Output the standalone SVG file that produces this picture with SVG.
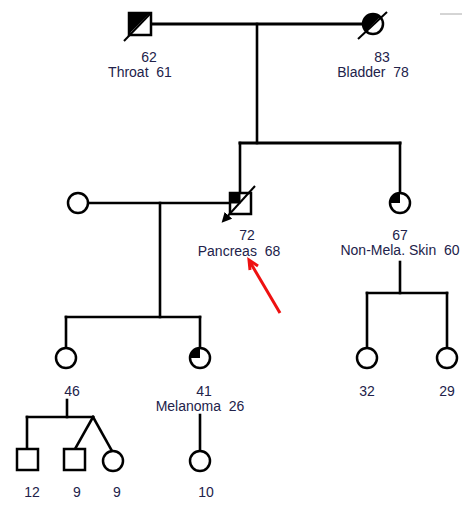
<svg xmlns="http://www.w3.org/2000/svg" width="465" height="508" viewBox="0 0 465 508">
<style>
text{font-family:"Liberation Sans",Arial,sans-serif;font-size:14px;fill:#22224a;text-anchor:middle;white-space:pre}
.ln{stroke:#000;stroke-width:2.6;fill:none;stroke-linecap:square}
.sym{stroke:#000;stroke-width:2.5;fill:#fff}
.fill{fill:#000;stroke:none}
.dl{stroke:#000;stroke-width:2;fill:none}
</style>
<defs>
<marker id="proband" viewBox="0 0 10 10" refX="5" refY="5" markerWidth="5" markerHeight="5" orient="auto-start-reverse"><path d="M0,0 L10,5 L0,10 Z" fill="#000"/></marker>
</defs>
<rect width="465" height="508" fill="#fff"/>
<line x1="440" y1="14" x2="462" y2="14" stroke="#aaa" stroke-width="1"/>
<g id="connectors">
<line class="ln" x1="151" y1="24" x2="362" y2="24" style="stroke-width:3"/>
<line class="ln" x1="257" y1="24" x2="257" y2="143"/>
<line class="ln" x1="240" y1="143" x2="400" y2="143" style="stroke-width:3"/>
<line class="ln" x1="240" y1="143" x2="240" y2="193"/>
<line class="ln" x1="400" y1="143" x2="400" y2="193"/>
<line class="ln" x1="88" y1="203" x2="230" y2="203"/>
<line class="ln" x1="160" y1="203" x2="160" y2="317"/>
<line class="ln" x1="66" y1="317" x2="200" y2="317"/>
<line class="ln" x1="66" y1="317" x2="66" y2="347"/>
<line class="ln" x1="200" y1="317" x2="200" y2="347"/>
<line class="ln" x1="400" y1="262" x2="400" y2="293"/>
<line class="ln" x1="367" y1="293" x2="447" y2="293"/>
<line class="ln" x1="367" y1="293" x2="367" y2="347"/>
<line class="ln" x1="447" y1="293" x2="447" y2="347"/>
<line class="ln" x1="67" y1="400" x2="67" y2="417"/>
<line class="ln" x1="27" y1="417" x2="93" y2="417"/>
<line class="ln" x1="27" y1="417" x2="27" y2="449"/>
<line class="ln" x1="93" y1="417" x2="75" y2="449"/>
<line class="ln" x1="93" y1="417" x2="112" y2="451"/>
<line class="ln" x1="200" y1="415" x2="200" y2="450"/>
</g>
<g id="I1">
<rect class="sym" x="129" y="13" width="22" height="22"/>
<polygon class="fill" points="129,13 151,13 129,35"/>
<line x1="131" y1="33" x2="149" y2="15" stroke="#fff" stroke-width="1.2"/>
<line class="dl" x1="124" y1="41" x2="150" y2="14"/>
<text x="149" y="62">62</text>
<text x="140" y="77">Throat  61</text>
</g>
<g id="I2">
<circle class="sym" cx="373" cy="24" r="10"/>
<path class="fill" d="M365.9 31.1 A10 10 0 0 1 380.1 16.9 Z"/>
<line class="dl" x1="358" y1="39" x2="387" y2="12"/>
<text x="382" y="62">83</text>
<text x="373" y="77">Bladder  78</text>
</g>
<g id="II1">
<rect class="sym" x="230" y="193" width="21" height="21"/>
<rect class="fill" x="230" y="193" width="10.5" height="10.5"/>
<line class="dl" x1="255" y1="186" x2="225" y2="219" marker-end="url(#proband)"/>
<text x="247" y="240">72</text>
<text x="239" y="256">Pancreas  68</text>
</g>
<g id="II2">
<circle class="sym" cx="400" cy="203" r="10"/>
<path class="fill" d="M400 203 L390 203 A10 10 0 0 1 400 193 Z"/>
<text x="400" y="240">67</text>
<text x="400" y="255">Non-Mela. Skin  60</text>
</g>
<g id="II_spouse">
<circle class="sym" cx="78" cy="203" r="10"/>
</g>
<g id="III1">
<circle class="sym" cx="66" cy="358" r="10"/>
<text x="72" y="396">46</text>
</g>
<g id="III2">
<circle class="sym" cx="200" cy="358" r="10"/>
<path class="fill" d="M200 358 L190 358 A10 10 0 0 1 200 348 Z"/>
<text x="204" y="396">41</text>
<text x="200" y="411">Melanoma  26</text>
</g>
<g id="III3">
<circle class="sym" cx="367" cy="358" r="10"/>
<text x="367" y="396">32</text>
</g>
<g id="III4">
<circle class="sym" cx="447" cy="358" r="10"/>
<text x="447" y="396">29</text>
</g>
<g id="IV1">
<rect class="sym" x="17" y="449" width="21" height="21"/>
<text x="32" y="497">12</text>
</g>
<g id="IV2">
<rect class="sym" x="64" y="449" width="21" height="21"/>
<text x="77" y="497">9</text>
</g>
<g id="IV3">
<circle class="sym" cx="113" cy="461" r="10"/>
<text x="117" y="497">9</text>
</g>
<g id="IV4">
<circle class="sym" cx="200" cy="461" r="10"/>
<text x="206" y="497">10</text>
</g>
<g id="pointer">
<line x1="280" y1="313" x2="250" y2="262" stroke="#ee1111" stroke-width="3"/>
<polyline points="258,266 249,260 250,270" fill="none" stroke="#ee1111" stroke-width="3"/>
</g>
</svg>
